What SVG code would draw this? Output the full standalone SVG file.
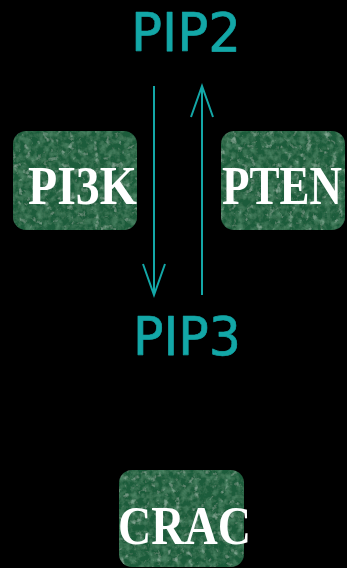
<svg xmlns="http://www.w3.org/2000/svg" width="347" height="568" viewBox="0 0 347 568">
<style>
.bg{fill:#000}
.box{fill:#25643f;filter:url(#tex)}
.lbl{font-family:"Liberation Serif","Times New Roman",serif;font-weight:bold;font-size:54px;fill:#fff}
.mol{font-family:"DejaVu Sans","Noto Sans",sans-serif;font-size:54px;fill:#13a7a7;stroke:#13a7a7;stroke-width:0.7;stroke-linejoin:round}
.conn line,.conn polyline{stroke:#13a7a7;stroke-width:2;fill:none}
</style>
<defs>
<filter id="tex" x="0" y="0" width="1" height="1">
<feTurbulence type="fractalNoise" baseFrequency="0.16" numOctaves="3" seed="4" result="n"/>
<feColorMatrix in="n" type="matrix" values="0 0 0 0 0.08  0 0 0 0 0.25  0 0 0 0 0.14  0 0 0 1.8 -0.7" result="g"/>
<feColorMatrix in="n" type="matrix" values="0 0 0 0 0.45  0 0 0 0 0.68  0 0 0 0 0.55  1.5 0 0 0 -0.9" result="h"/>
<feFlood flood-color="#1f5c3a" result="base"/>
<feMerge result="m"><feMergeNode in="base"/><feMergeNode in="g"/><feMergeNode in="h"/></feMerge>
<feComposite in="m" in2="SourceGraphic" operator="in"/>
</filter>
</defs>
<rect class="bg" x="0" y="0" width="347" height="568"/>
<g id="PIP2"><text class="mol" x="186" y="51" text-anchor="middle" textLength="110" lengthAdjust="spacingAndGlyphs">PIP2</text></g>
<g id="PIP3"><text class="mol" x="187" y="355" text-anchor="middle" textLength="108" lengthAdjust="spacingAndGlyphs">PIP3</text></g>
<g id="PI3K"><rect class="box" x="13" y="131" width="124" height="99" rx="13"/><text class="lbl" x="28" y="204" textLength="109" lengthAdjust="spacingAndGlyphs">PI3K</text></g>
<g id="PTEN"><rect class="box" x="221" y="131" width="124" height="99" rx="13"/><text class="lbl" x="222" y="204" textLength="120" lengthAdjust="spacingAndGlyphs">PTEN</text></g>
<g id="CRAC"><rect class="box" x="119" y="470" width="125" height="97" rx="13"/><text class="lbl" x="118" y="544" textLength="133" lengthAdjust="spacingAndGlyphs">CRAC</text></g>
<g class="conn" id="connectors">
<line x1="154" y1="86" x2="154" y2="295"/>
<polyline points="143,264 154,295 165,264"/>
<line x1="202" y1="295" x2="202" y2="86"/>
<polyline points="191,117 202,86 213,117"/>
</g>
</svg>
